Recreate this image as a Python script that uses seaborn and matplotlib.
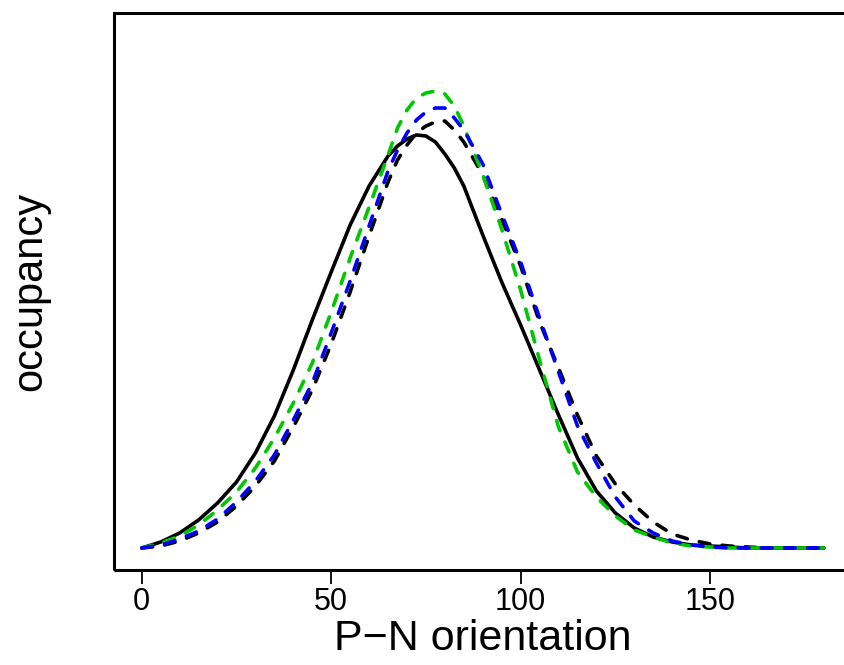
import matplotlib
matplotlib.use("Agg")
import matplotlib.pyplot as plt
from matplotlib.patches import Rectangle
import seaborn as sns

# ---- data (occupancy in arbitrary units) ----
orientation = [0, 5, 10, 15, 20, 25, 30, 35, 40, 45, 50, 55, 60, 65, 67.5, 70, 72.5,
               75, 77.5, 80, 82.5, 85, 90, 95, 100, 105, 110, 115, 120, 125, 130,
               135, 140, 145, 150, 155, 160, 165, 170, 175, 180]
black_solid = [0, 6, 15, 28, 45, 66, 95, 132, 178, 228, 276, 323, 362, 392, 402, 409, 413,
               412, 406, 394, 380, 362, 313, 266, 223, 178, 133, 90, 57, 35, 20,
               11, 6, 3, 2, 1, 0, 0, 0, 0, 0]
black_dashed = [0, 2, 7, 15, 26, 42, 62, 87, 121, 158, 204, 256, 312, 366, 388, 403, 415,
                422, 426, 427, 418, 406, 373, 329, 282, 226, 180, 133, 92, 64, 43,
                26, 14, 8, 4, 2, 1, 0, 0, 0, 0]
green_dashed = [0, 5, 12, 23, 38, 56, 80, 110, 145, 185, 236, 290, 341, 393, 420, 438, 450,
                455, 457, 454, 442, 422, 373, 319, 258, 188, 121, 76, 51, 32, 18,
                11, 5, 2, 1, 0, 0, 0, 0, 0, 0]
blue_dashed = [0, 3, 9, 17, 29, 46, 67, 93, 128, 165, 215, 267, 322, 377, 398, 415, 428,
               436, 440, 440, 430, 418, 384, 334, 286, 230, 176, 122, 85, 51, 27,
               15, 7, 3, 1, 0, 0, 0, 0, 0, 0]
x_ticks = [0, 50, 100, 150]
x_label = "P\u2212N orientation"
y_label = "occupancy"

sns.set_theme(style="white")
plt.rcParams["font.family"] = ["Liberation Sans", "DejaVu Sans"]
plt.rcParams["text.color"] = "black"
plt.rcParams["axes.labelcolor"] = "black"
plt.rcParams["xtick.color"] = "black"

W, H = 845, 665
fig = plt.figure(figsize=(W / 100, H / 100), dpi=100)
left_px, right_px, top_px, bot_px = 114.5, 851.0, 13.0, 570.0
ax = fig.add_axes([left_px / W, 1 - bot_px / H, (right_px - left_px) / W, (bot_px - top_px) / H])

dash = (0, (3.0, 3.4))
series = [
    (black_solid, "black", "-"),
    (black_dashed, "black", dash),
    (green_dashed, "#00C800", dash),
    (blue_dashed, "#0000FF", dash),
]
for vals, col, ls in series:
    sns.lineplot(x=orientation, y=vals, ax=ax, color=col, linestyle=ls, linewidth=2.6,
                 solid_capstyle="round", dash_capstyle="round",
                 solid_joinstyle="round", dash_joinstyle="round")

ax.set_xlim(-7.2, 187.2)
ax.set_ylim(-22, 535)
ax.set_yticks([])
ax.set_xticks(x_ticks)
ax.set_xticklabels([str(t) for t in x_ticks], fontsize=22)
for s in ax.spines.values():
    s.set_visible(False)
ax.add_patch(Rectangle((0, 0), 1, 1, transform=ax.transAxes, fill=False,
                       edgecolor="black", linewidth=2.2, clip_on=False, zorder=5))
ax.tick_params(axis="x", direction="out", length=10, width=1.3, color="black",
               pad=2, bottom=True, labelcolor="black")
ax.set_xlabel(x_label, fontsize=31, color="black", va="top")
ax.xaxis.set_label_coords(0.5, (bot_px - 619) / (bot_px - top_px))
ax.set_ylabel(y_label, fontsize=30, labelpad=46, color="black")
ax.set_facecolor("white")
fig.patch.set_facecolor("white")
fig.savefig("out.png", dpi=100)
